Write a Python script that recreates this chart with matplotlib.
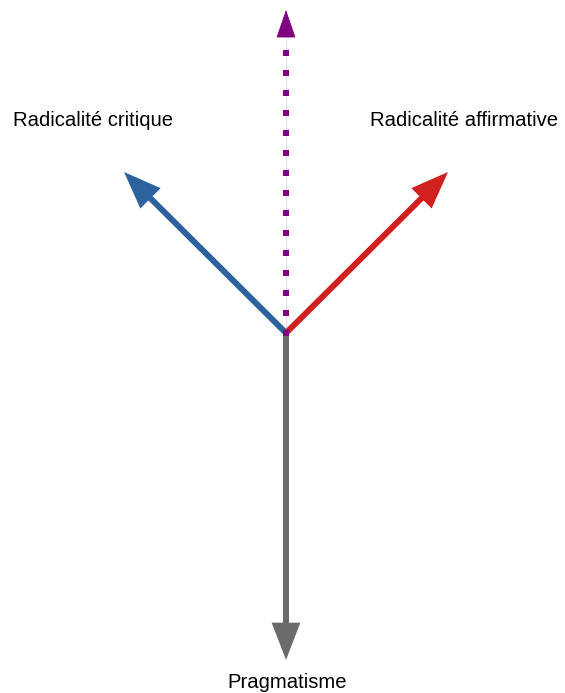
import matplotlib
matplotlib.use("Agg")
import matplotlib.pyplot as plt
from matplotlib.patches import FancyArrowPatch

plt.rcParams['font.family'] = ['Liberation Sans', 'DejaVu Sans']
plt.rcParams['lines.scale_dashes'] = False

# Vectors (dx, dy) from the common origin, in pixel-like units (y up)
labels = ["Radicalité critique", "Radicalité affirmative", "Pragmatisme"]
vec_dx = [-162, 162, 0]
vec_dy = [161, 161, -327]
colors = ["#2D629F", "#D0201F", "#6B6B6B"]
label_x = [-193, 178, 1]
label_y = [212, 212, -350]

# dotted purple axis
dotted_len = 323
dotted_color = "#800080"

W, H = 565, 693
ox, oy = 286, 333
fig = plt.figure(figsize=(W / 100, H / 100), dpi=100)
ax = fig.add_axes([0, 0, 1, 1])
ax.set_xlim(-ox, W - ox)
ax.set_ylim(-(H - oy), oy)
ax.axis('off')

px = 72 / 100  # points per pixel

# faint guide line for dotted arrow
ax.plot([0, 0], [0, dotted_len - 26], color="#E6DAF0", lw=1 * px, zorder=1)
# dotted squares
ax.plot([0, 0], [-3, dotted_len - 40], color=dotted_color, lw=6 * px,
        dashes=(6 * px, 14 * px), solid_capstyle='butt', dash_capstyle='butt', zorder=4)
head = FancyArrowPatch((0, dotted_len - 26), (0, dotted_len),
                       arrowstyle=f"-|>,head_length={26*px},head_width={9*px}",
                       mutation_scale=1, color=dotted_color, lw=0.5, shrinkA=0, shrinkB=0, zorder=4)
ax.add_patch(head)

for dx, dy, c in zip(vec_dx, vec_dy, colors):
    a = FancyArrowPatch((0, 0), (dx, dy),
                        arrowstyle=f"-|>,head_length={26*px},head_width={10*px}",
                        mutation_scale=1, color=c, lw=6 * px, shrinkA=0, shrinkB=0,
                        capstyle='butt', joinstyle='miter', zorder=2)
    ax.add_patch(a)

for t, x, y in zip(labels, label_x, label_y):
    ax.text(x, y, t, ha='center', va='center', fontsize=14.6, color='black')

fig.savefig("out.png", dpi=100)
